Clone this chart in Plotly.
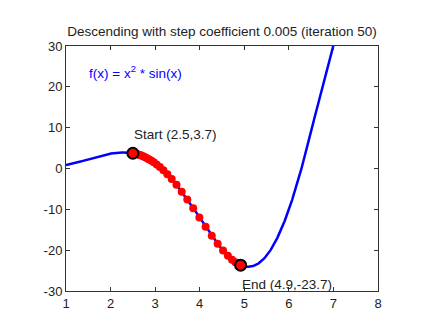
import numpy as np
import plotly.graph_objects as go

# Descent settings shown in the title
step_coef = 0.005
n_iter = 50

# Positions visited by the descent (x), start at 2.5, end near the minimum
path_x = [2.500, 2.517, 2.536, 2.556, 2.579, 2.603, 2.630, 2.659, 2.691,
          2.727, 2.766, 2.809, 2.857, 2.910, 2.968, 3.034, 3.106, 3.186,
          3.274, 3.372, 3.479, 3.596, 3.721, 3.854, 3.992, 4.132, 4.270,
          4.402, 4.524, 4.632, 4.725, 4.802, 4.866, 4.917]

# Axes
x_range = [1, 8]
y_range = [-30, 30]
x_ticks = [1, 2, 3, 4, 5, 6, 7, 8]
y_ticks = [-30, -20, -10, 0, 10, 20, 30]
y_tick_labels = ["-30", "-20", "-10", "0", "10", "20", "30"]


def f(x):
    return np.asarray(x) ** 2 * np.sin(x)


# Curve samples
xs = np.linspace(x_range[0], x_range[1], 600)
ys = f(xs)

px = np.array(path_x)
py = f(px)

font = "Liberation Sans, Arial, sans-serif"

fig = go.Figure()
fig.add_trace(go.Scatter(x=xs, y=ys, mode="lines",
                         line=dict(color="#0000ff", width=2.5),
                         hoverinfo="skip", showlegend=False))
fig.add_trace(go.Scatter(x=px, y=py, mode="markers",
                         marker=dict(color="#ff0000", size=8, line=dict(width=0)),
                         showlegend=False))
fig.add_trace(go.Scatter(x=[px[0], px[-1]], y=[py[0], py[-1]],
                         mode="markers",
                         marker=dict(color="#ff0000", size=11,
                                     line=dict(color="black", width=2)),
                         showlegend=False))

fig.add_annotation(x=1.47, y=23.6, xref="x", yref="y", xanchor="left",
                   text="f(x) = x<sup>2</sup> * sin(x)", showarrow=False,
                   font=dict(family=font, size=13.5, color="#0000ff"))
fig.add_annotation(x=2.47, y=8.4, xref="x", yref="y", xanchor="left",
                   text=f"Start ({px[0]:.1f},{py[0]:.1f})", showarrow=False,
                   font=dict(family=font, size=13.5, color="#222222"))
fig.add_annotation(x=4.9, y=-28.4, xref="x", yref="y", xanchor="left",
                   text=f"End ({px[-1]:.1f},{py[-1]:.1f})", showarrow=False,
                   font=dict(family=font, size=13.5, color="#222222"))

axis_common = dict(showgrid=False, zeroline=False, showline=True,
                   linecolor="#333333", linewidth=1, mirror="ticks",
                   ticks="inside", ticklen=4, tickcolor="#333333",
                   tickfont=dict(family=font, size=13, color="#222222"))

fig.update_xaxes(range=x_range, tickvals=x_ticks, **axis_common)
fig.update_yaxes(range=y_range, tickvals=y_ticks, ticktext=y_tick_labels,
                 **axis_common)

fig.update_layout(
    width=431, height=327,
    margin=dict(l=66, r=53, t=46, b=36),
    paper_bgcolor="white", plot_bgcolor="white",
    title=dict(text=f"Descending with step coefficient {step_coef} (iteration {n_iter})",
               x=(66 + 378) / 2 / 431, xanchor="center",
               y=1 - 31 / 327, yanchor="middle",
               font=dict(family=font, size=13.5, color="#222222")),
)

fig.write_html("out.html")
